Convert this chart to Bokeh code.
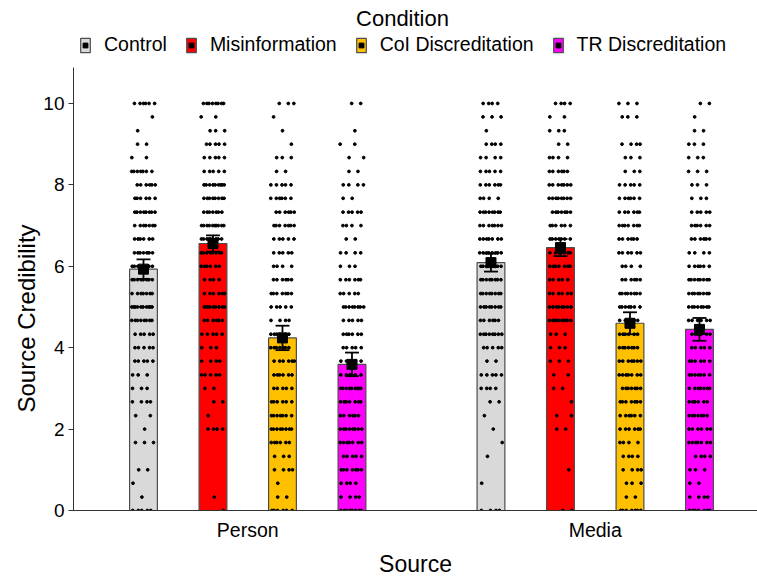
from bokeh.plotting import figure
from bokeh.models import ColumnDataSource, Legend, LegendItem, FixedTicker, Label, Title
from bokeh.embed import file_html
from bokeh.resources import INLINE

FONT = "Liberation Sans"

conditions = ["Control", "Misinformation", "CoI Discreditation", "TR Discreditation"]
colors = ["#D9D9D9", "#FF0000", "#FFC000", "#FF00FF"]
sources = ["Person", "Media"]

# mean and standard error per source, by condition
mean_person = [5.93, 6.56, 4.24, 3.59]
se_person = [0.24, 0.20, 0.30, 0.29]
mean_media = [6.09, 6.46, 4.60, 4.45]
se_media = [0.22, 0.21, 0.27, 0.28]

# response levels (descending) and number of responses observed at each level
levels = [10, 9.67, 9.33, 9, 8.67, 8.33, 8, 7.67, 7.33, 7, 6.67, 6.33, 6, 5.67, 5.33,
          5, 4.67, 4.33, 4, 3.67, 3.33, 3, 2.67, 2.33, 2, 1.67, 1.33, 1, 0.67, 0.33, 0]

person_control = [6,1,1,2,2,7,6,6,8,7, 6,7,7,8,7,10,8,5,5,5, 3,3,4,2,1,3,0,2,1,1, 5]
person_misinfo = [8,2,3,5,5,5,9,8,7,10, 9,8,6,4,6,9,6,5,3,4, 5,2,2,1,4,0,0,0,0,1, 1]
person_coi = [3,1,1,1,3,2,5,6,6,7, 5,5,4,6,7,5,4,6,7,6, 6,5,6,7,8,6,3,4,1,2, 6]
person_tr = [2,0,1,2,2,2,4,2,5,4, 2,4,3,6,5,8,5,6,5,4, 6,9,7,6,8,7,5,7,4,4, 8]
media_control = [4,3,1,4,4,5,6,4,8,7, 7,8,7,8,8,8,6,8,5,2, 5,4,2,1,1,1,1,0,1,0, 4]
media_misinfo = [4,2,3,2,4,6,7,8,7,6, 7,7,7,5,6,8,10,3,3,3, 2,2,1,2,2,0,0,1,0,0, 2]
media_coi = [3,3,0,4,3,3,5,6,6,7, 6,6,4,6,8,7,5,6,7,7, 7,7,7,6,6,4,4,4,3,2, 7]
media_tr = [2,1,2,3,3,3,3,3,5,6, 6,4,6,8,8,8,6,6,5,6, 7,7,6,7,6,7,4,3,2,4, 7]

y_ticks = [0, 2, 4, 6, 8, 10]

counts = {
    ("Person", 0): person_control, ("Person", 1): person_misinfo,
    ("Person", 2): person_coi, ("Person", 3): person_tr,
    ("Media", 0): media_control, ("Media", 1): media_misinfo,
    ("Media", 2): media_coi, ("Media", 3): media_tr,
}

# layout: bar slots along x
group_start = {"Person": 0, "Media": 5}
BAR_W = 0.40
JIT = 0.34
CAP = 0.10
FW, FH = 684, 510
Y_AXIS_TOP = 10.88

p = figure(frame_width=FW, frame_height=FH, x_range=(-1.007, 8.835), y_range=(0, 12.53),
           output_backend="svg", toolbar_location=None,
           min_border_left=73, min_border_right=0, min_border_bottom=68, min_border_top=0)
p.xgrid.visible = False
p.ygrid.visible = False
p.outline_line_color = None

bar_renderers = []
mean_renderers = []
for ci, cond in enumerate(conditions):
    xs = [group_start[s] + ci for s in sources]
    ms = [mean_person[ci], mean_media[ci]]
    src = ColumnDataSource(dict(x=xs, top=ms))
    r = p.vbar(x="x", top="top", bottom=0, width=BAR_W, source=src,
               fill_color=colors[ci], line_color="#4d4d4d", line_width=1.2)
    bar_renderers.append(r)

# jittered individual responses
dx, dy = [], []
for (s, ci), cnt in counts.items():
    x0 = group_start[s] + ci
    for j, (lv, n) in enumerate(zip(levels, cnt)):
        for i in range(n):
            u = (0.5 + i * 0.618034 + j * 0.377 + ci * 0.123 + group_start[s] * 0.21) % 1.0
            dx.append(x0 + (u - 0.5) * JIT)
            dy.append(lv)
p.scatter(dx, dy, size=2.8, color="black", marker="circle")

# error bars and means
for ci, cond in enumerate(conditions):
    xs = [group_start[s] + ci for s in sources]
    ms = [mean_person[ci], mean_media[ci]]
    ses = [se_person[ci], se_media[ci]]
    lo = [m - e for m, e in zip(ms, ses)]
    hi = [m + e for m, e in zip(ms, ses)]
    p.segment(x0=xs, x1=xs, y0=lo, y1=hi, line_color="black", line_width=1.8)
    p.segment(x0=[x - CAP for x in xs], x1=[x + CAP for x in xs], y0=lo, y1=lo,
              line_color="black", line_width=1.8)
    p.segment(x0=[x - CAP for x in xs], x1=[x + CAP for x in xs], y0=hi, y1=hi,
              line_color="black", line_width=1.8)
    mr = p.scatter(x=xs, y=ms, marker="square", size=10, color="black")
    mean_renderers.append(mr)

# axes
p.yaxis.ticker = FixedTicker(ticks=y_ticks)
p.yaxis.bounds = (0, Y_AXIS_TOP)
p.xaxis.ticker = FixedTicker(ticks=[group_start[s] + 1.5 for s in sources])
p.xaxis.major_label_overrides = {group_start[s] + 1.5: s for s in sources}
p.xaxis.axis_label = "Source"
for ax in (p.xaxis[0], p.yaxis[0]):
    ax.major_label_text_font = FONT
    ax.major_label_text_color = "black"
    ax.minor_tick_line_color = None
    ax.axis_line_color = "#333333"
    ax.axis_line_width = 1
    ax.axis_label_text_font = FONT
    ax.axis_label_text_font_style = "normal"
    ax.axis_label_text_color = "black"
p.yaxis.major_label_text_font_size = "19px"
p.yaxis.major_tick_line_color = "#333333"
p.yaxis.major_tick_out = 5
p.yaxis.major_tick_in = 0
p.yaxis.major_label_standoff = 4
p.xaxis.major_label_text_font_size = "19.5px"
p.xaxis.axis_label_text_font_size = "23px"
p.xaxis.major_tick_line_color = None
p.xaxis.major_tick_out = 0
p.xaxis.major_tick_in = 0
p.xaxis.major_label_standoff = 8
p.xaxis.axis_label_standoff = 7

ytitle = Title(text="Source Credibility", align="left", offset=98, standoff=0,
               vertical_align="middle", text_font=FONT, text_font_size="24px",
               text_font_style="normal", text_color="black")
p.add_layout(ytitle, "left")

items = [LegendItem(label=c, renderers=[bar_renderers[i], mean_renderers[i]])
         for i, c in enumerate(conditions)]
legend = Legend(items=items, orientation="horizontal", location=(6, 454),
                label_text_font=FONT, label_text_font_size="19.5px",
                label_text_color="black", glyph_width=12, glyph_height=18,
                spacing=18, label_standoff=13, padding=0, margin=0,
                border_line_color=None, background_fill_alpha=0)
p.add_layout(legend, "center")

p.add_layout(Label(x=329, y=492, x_units="screen", y_units="screen", text="Condition",
                   text_align="center", text_baseline="middle", text_font=FONT,
                   text_font_size="22px", text_color="black"))

open("out.html", "w").write(file_html(p, INLINE))
